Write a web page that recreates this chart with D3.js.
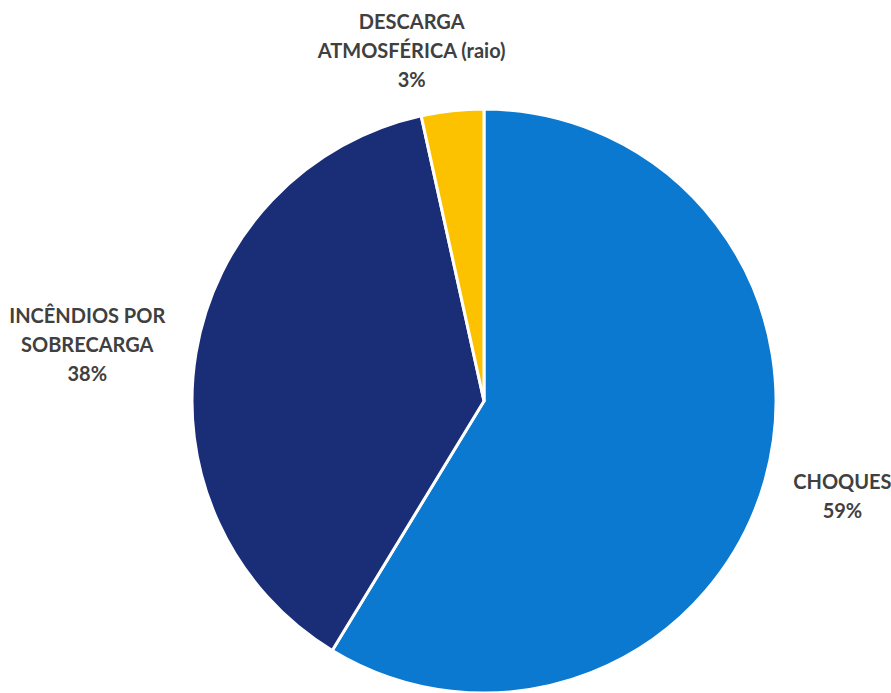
<!DOCTYPE html>
<html lang="pt">
<head>
    <meta charset="UTF-8">
    <title>Acidentes de origem elétrica</title>
    <script src="https://cdnjs.cloudflare.com/ajax/libs/d3/7.8.5/d3.min.js"></script>
    <style>
        body { margin: 0; background: #fff; }
        svg { display: block; }
        .lbl { font-family: Lato, "Open Sans", sans-serif; font-weight: 700; font-size: 20px; fill: #404040; }
    </style>
</head>
<body>
<svg width="891" height="693"></svg>

<script>
    // data (shares; labels show them rounded)
    const categories = ["CHOQUES", "INCÊNDIOS POR SOBRECARGA", "DESCARGA ATMOSFÉRICA (raio)"];
    const labelLines = [["CHOQUES"], ["INCÊNDIOS POR", "SOBRECARGA"], ["DESCARGA", "ATMOSFÉRICA (raio)"]];
    const values = [58.7, 37.85, 3.45];
    const colors = ["#0a79cf", "#1a2e78", "#fcc200"];

    // hand nudges for the label boxes, like moved labels in the original
    const labelNudge = [[3, 1], [-4, 2], [-28, 8]];

    const svg = d3.select("svg");
    const cx = 484, cy = 401, radius = 292;

    const g = svg.append("g").attr("transform", `translate(${cx},${cy})`);

    const pie = d3.pie().sort(null).value(d => d.value);
    const arcs = pie(values.map((v, i) => ({ name: categories[i], value: v, lines: labelLines[i], color: colors[i], nudge: labelNudge[i] })));

    const arc = d3.arc().innerRadius(0).outerRadius(radius);

    g.selectAll("path")
        .data(arcs)
        .enter()
        .append("path")
        .attr("d", arc)
        .attr("fill", d => d.data.color)
        .attr("stroke", "#fff")
        .attr("stroke-width", 3)
        .attr("stroke-linejoin", "round");

    // labels outside the pie, text box pushed out along the slice direction
    const lineH = 29;
    const labelR = 320;
    arcs.forEach(d => {
        const a = (d.startAngle + d.endAngle) / 2;
        const ux = Math.sin(a), uy = -Math.cos(a);
        const lines = d.data.lines.concat([Math.round(d.data.value) + "%"]);

        const t = g.append("text").attr("class", "lbl").attr("text-anchor", "middle");
        lines.forEach((s, i) => {
            t.append("tspan").attr("x", 0).attr("y", i * lineH).text(s);
        });
        const bb = t.node().getBBox();
        const w = bb.width, h = bb.height;
        const px = labelR * ux + ux * w / 2 + d.data.nudge[0];
        const py = labelR * uy + uy * h / 2 + d.data.nudge[1];
        const ox = px - (bb.x + w / 2);
        const oy = py - (bb.y + h / 2);
        t.attr("transform", `translate(${ox},${oy})`);
    });
</script>
</body>
</html>
